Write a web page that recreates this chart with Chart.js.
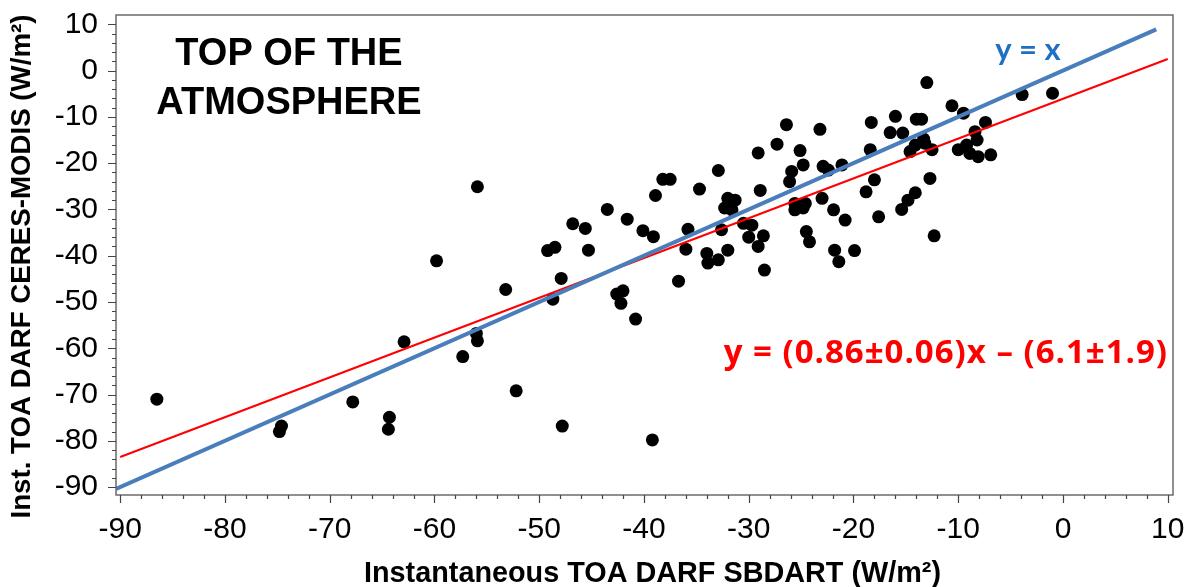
<!DOCTYPE html>
<html>
<head>
<meta charset="utf-8">
<script src="https://cdn.jsdelivr.net/npm/chart.js@4/dist/chart.umd.min.js"></script>
<style>
  html, body { margin: 0; padding: 0; background: #fff; }
  #wrap { width: 1187px; height: 587px; }
</style>
</head>
<body>
<div id="wrap"><canvas id="c"></canvas></div>
<script>
// Instantaneous TOA DARF: SBDART (x) vs CERES-MODIS (y), W/m2
const sbdartX = [
  -86.5, -74.6, -74.8, -67.8, -64.3, -64.4, -62.9, -59.8, -57.3, -56.0,
  -55.9, -55.9, -53.2, -52.2, -49.2, -48.5, -48.7, -47.9, -47.8, -46.8,
  -45.6, -45.3, -43.5, -42.6, -42.0, -42.2, -40.8, -41.6, -40.1, -39.1,
  -39.2, -38.9, -38.2, -37.5, -36.7, -35.8, -36.0, -34.7, -34.0, -33.9,
  -32.9, -32.0, -32.6, -32.9, -32.0, -31.3, -32.3, -31.6, -30.5, -29.7,
  -30.0, -28.6, -29.1, -28.5, -29.1, -28.9, -27.3, -26.4, -25.1, -24.8,
  -25.9, -26.1, -25.6, -24.6, -25.6, -24.8, -24.5, -24.2, -23.2, -22.9,
  -22.4, -23.0, -21.9, -21.1, -20.8, -21.8, -21.4, -19.9, -18.3, -18.4,
  -18.8, -18.0, -17.6, -16.0, -16.5, -15.3, -14.0, -13.5, -13.3, -13.2,
  -14.6, -14.1, -12.5, -12.7, -14.1, -14.8, -15.4, -12.3, -13.0, -10.6,
  -9.5, -10.0, -9.2, -8.9, -8.2, -8.4, -7.4, -8.1, -6.9, -3.9,
  -1.0
];
const ceresY = [
  -71.0, -76.8, -78.0, -71.6, -74.9, -77.5, -58.6, -41.1, -61.8, -56.8,
  -58.4, -25.1, -47.3, -69.2, -38.9, -38.2, -49.4, -44.9, -76.8, -33.1,
  -34.1, -38.8, -30.0, -48.3, -47.6, -50.3, -53.7, -32.1, -34.6, -35.9,
  -79.8, -27.0, -23.5, -23.5, -45.5, -34.3, -38.6, -25.6, -39.5, -41.6,
  -40.9, -38.8, -34.4, -21.6, -27.6, -28.0, -29.7, -30.1, -33.0, -33.4,
  -36.0, -35.7, -38.0, -43.1, -17.8, -25.9, -15.9, -11.7, -17.3, -20.4,
  -21.8, -24.0, -28.7, -28.7, -30.1, -29.7, -34.8, -37.0, -12.7, -20.7,
  -21.5, -27.6, -30.1, -20.4, -32.3, -38.8, -41.3, -38.9, -11.2, -17.1,
  -26.2, -23.6, -31.6, -9.9, -13.4, -13.5, -10.5, -10.5, -14.8, -15.7,
  -17.5, -16.1, -17.1, -23.3, -26.4, -28.0, -30.0, -35.7, -2.6, -7.6,
  -9.2, -17.1, -16.1, -17.9, -15.0, -13.2, -11.2, -18.6, -18.2, -5.2,
  -4.9
];

// regression y = a*x + b, and the 1:1 line
const fitSlope = 0.86;
const fitIntercept = -6.1;
const fitLineX = [-90, 10];
const oneToOneX = [-90.4, 8.9];

const xTickValues = [-90, -80, -70, -60, -50, -40, -30, -20, -10, 0, 10];
const yTickValues = [10, 0, -10, -20, -30, -40, -50, -60, -70, -80, -90];
const minorStep = 2;

const points = sbdartX.map((x, i) => ({ x, y: ceresY[i] }));

const tickFont = { family: "'Liberation Sans', Arial, sans-serif", size: 30 };

// keep the plot box where the original has it (no label overhang padding)
function noOverhang(s) {
  s.paddingTop = 0;
  s.paddingBottom = 0;
  s.paddingLeft = 0;
  s.paddingRight = 0;
}

// frame, tick marks and the text labels inside the plot
const decorations = {
  id: 'decorations',
  afterDraw(chart) {
    const { ctx, chartArea: a, scales } = chart;
    const xs = scales.x, ys = scales.y;
    ctx.save();
    ctx.strokeStyle = '#6b6b6b';
    ctx.lineWidth = 1.5;
    ctx.strokeRect(a.left, a.top, a.right - a.left, a.bottom - a.top);

    ctx.strokeStyle = '#444';
    ctx.lineWidth = 1.2;
    ctx.beginPath();
    for (let v = xTickValues[0]; v <= xTickValues[xTickValues.length - 1]; v += minorStep) {
      const px = Math.round(xs.getPixelForValue(v)) + 0.5;
      const len = v % 10 === 0 ? 8 : 4;
      ctx.moveTo(px, a.bottom);
      ctx.lineTo(px, a.bottom + len);
    }
    for (let v = yTickValues[yTickValues.length - 1]; v <= yTickValues[0]; v += minorStep) {
      const py = Math.round(ys.getPixelForValue(v)) + 0.5;
      const len = v % 10 === 0 ? 8 : 4;
      ctx.moveTo(a.left, py);
      ctx.lineTo(a.left - len, py);
    }
    ctx.stroke();

    ctx.fillStyle = '#000';
    ctx.textAlign = 'center';
    ctx.textBaseline = 'alphabetic';
    ctx.font = "bold 38px 'Liberation Sans', Arial, sans-serif";
    ctx.fillText('TOP OF THE', 289, 65);
    ctx.fillText('ATMOSPHERE', 289, 114);

    ctx.font = "bold 31px Lato, 'Open Sans', sans-serif";
    ctx.fillStyle = '#1f6fc4';
    ctx.fillText('y = x', 1028, 60);

    ctx.fillStyle = '#ff0000';
    ctx.textAlign = 'right';
    ctx.font = "bold 33px 'Open Sans', Lato, sans-serif";
    ctx.letterSpacing = '1px';
    ctx.fillText('y = (0.86±0.06)x \u2013 (6.1±1.9)', 1168, 363);
    ctx.restore();
  }
};

new Chart(document.getElementById('c'), {
  type: 'scatter',
  data: {
    datasets: [
      {
        label: 'y = x',
        type: 'line',
        showLine: true,
        data: oneToOneX.map(x => ({ x, y: x })),
        borderColor: '#4a7ebb',
        borderWidth: 4,
        pointRadius: 0,
        order: 0,
      },
      {
        label: 'fit',
        type: 'line',
        showLine: true,
        data: fitLineX.map(x => ({ x, y: fitSlope * x + fitIntercept })),
        borderColor: '#ff0000',
        borderWidth: 2,
        pointRadius: 0,
        order: 1,
      },
      {
        label: 'obs',
        data: points,
        backgroundColor: '#000',
        borderWidth: 0,
        pointRadius: 6.5,
        order: 2,
      },
    ],
  },
  options: {
    responsive: true,
    maintainAspectRatio: false,
    animation: false,
    events: [],
    layout: { padding: { top: 15, right: 14, left: 0, bottom: 0 } },
    plugins: {
      legend: { display: false },
      tooltip: { enabled: false },
    },
    scales: {
      x: {
        type: 'linear',
        min: -90.4,
        max: 10.5,
        afterBuildTicks: s => { s.ticks = xTickValues.map(v => ({ value: v })); },
        afterFit: s => { s.height = 92; noOverhang(s); },
        grid: { display: true, drawOnChartArea: false, drawTicks: false },
        border: { display: false },
        ticks: {
          font: tickFont,
          color: '#000',
          padding: 17,
          maxRotation: 0,
          autoSkip: false,
          callback: v => String(v),
        },
        title: {
          display: true,
          text: '  Instantaneous TOA DARF SBDART (W/m\u00b2)',
          font: { family: "'Liberation Sans', Arial, sans-serif", size: 28.8, weight: 'bold' },
          color: '#000',
          padding: { top: 0, bottom: -4 },
        },
      },
      y: {
        type: 'linear',
        min: -91.7,
        max: 12,
        afterBuildTicks: s => { s.ticks = yTickValues.map(v => ({ value: v })); },
        afterFit: s => { s.width = 116; noOverhang(s); },
        grid: { display: true, drawOnChartArea: false, drawTicks: false },
        border: { display: false },
        ticks: {
          font: tickFont,
          color: '#000',
          padding: 18,
          autoSkip: false,
          callback: v => String(v),
        },
        title: {
          display: true,
          text: 'Inst. TOA DARF CERES-MODIS (W/m\u00b2)   ',
          font: { family: "'Liberation Sans', Arial, sans-serif", size: 27.7, weight: 'bold' },
          color: '#000',
          padding: { top: 6, bottom: 0 },
        },
      },
    },
  },
  plugins: [decorations],
});
</script>
</body>
</html>
